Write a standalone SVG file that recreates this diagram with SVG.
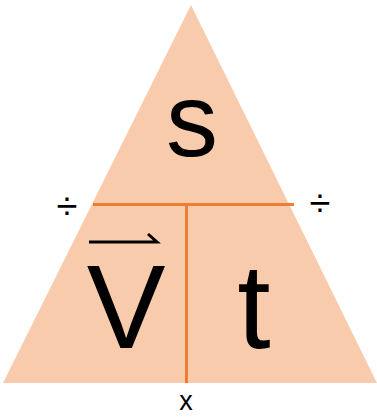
<svg xmlns="http://www.w3.org/2000/svg" width="377" height="417" viewBox="0 0 377 417">
<style>
.t{font-family:"Liberation Sans",Arial,sans-serif;fill:#000;text-anchor:middle}
.div{stroke:#ED7D31;stroke-width:3;fill:none}
</style>
<rect width="377" height="417" fill="#fff"/>
<g id="triangle">
<polygon points="191,5 3,383 377,383" fill="#F8CBAD"/>
</g>
<g id="connectors">
<line class="div" x1="93" y1="204.5" x2="294" y2="204.5"/>
<line class="div" x1="186.5" y1="204.5" x2="186.5" y2="383"/>
</g>
<g id="node-s"><text class="t" x="192" y="156" font-size="104">s</text></g>
<g id="node-v">
<text class="t" x="126" y="348" font-size="118">V</text>
<path d="M89,242 H157 L148,234" fill="none" stroke="#000" stroke-width="3"/>
</g>
<g id="node-t"><text class="t" x="254" y="348" font-size="120">t</text></g>
<g id="ops">
<text class="t" x="67" y="219" font-size="38">÷</text>
<text class="t" x="320" y="216" font-size="38">÷</text>
<text class="t" x="186" y="410" font-size="27">x</text>
</g>
</svg>
